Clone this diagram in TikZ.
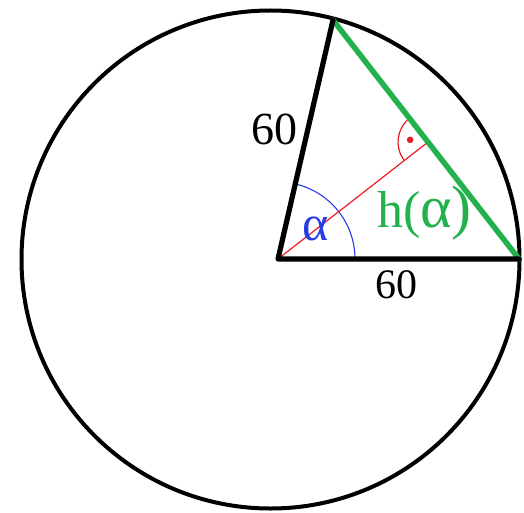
\documentclass[tikz,border=0pt]{standalone}
\usepackage{fontspec}
\setmainfont{Liberation Serif}
\definecolor{hgreen}{RGB}{34,177,76}
\definecolor{ablue}{RGB}{40,60,230}
\definecolor{rred}{RGB}{237,28,36}
\begin{document}
\begin{tikzpicture}[x=1pt,y=-1pt,
  thick line/.style={line width=5.2pt,line cap=round,line join=round},
  thin red/.style={draw=rred,line width=1.2pt},
  lbl/.style={inner sep=0pt,anchor=base}]
\useasboundingbox (0,0) rectangle (524,513);
\coordinate (C) at (270.5,259.5);
\coordinate (O) at (278,259);
\coordinate (A) at (519,259);
\coordinate (B) at (333,20);
\coordinate (F) at (428,142);
% circle
\draw[line width=4pt] (C) circle[radius=249];
% angle arc
\draw[ablue,line width=1.1pt] ([shift={(0:77)}]O) arc[start angle=0,end angle=-77,radius=77];
% altitude
\draw[thin red] (O) -- (F);
% right-angle mark
\draw[thin red] ([shift={(142:30)}]F) arc[start angle=142,end angle=232,radius=30];
\fill[rred] ([shift={(187:18)}]F) circle[radius=3.3];
% chord
\draw[hgreen,line width=5.5pt,line cap=round] (B) -- (A);
% radii
\draw[thick line] (B) -- (O) -- (A);
% labels
\node[lbl,font=\fontsize{46}{50}\selectfont] (l1) at (274,145) {60};
\node[lbl,font=\fontsize{42}{50}\selectfont] (l2) at (396,298) {60};
\node[lbl,font=\fontsize{50}{50}\selectfont,text=ablue] (la) at (316,240) {α};
\node[lbl,font=\fontsize{52}{56}\selectfont,text=hgreen,anchor=base west] (lh) at (377,227) {h(\fontsize{60}{56}\selectfont α)};
\end{tikzpicture}
\end{document}
